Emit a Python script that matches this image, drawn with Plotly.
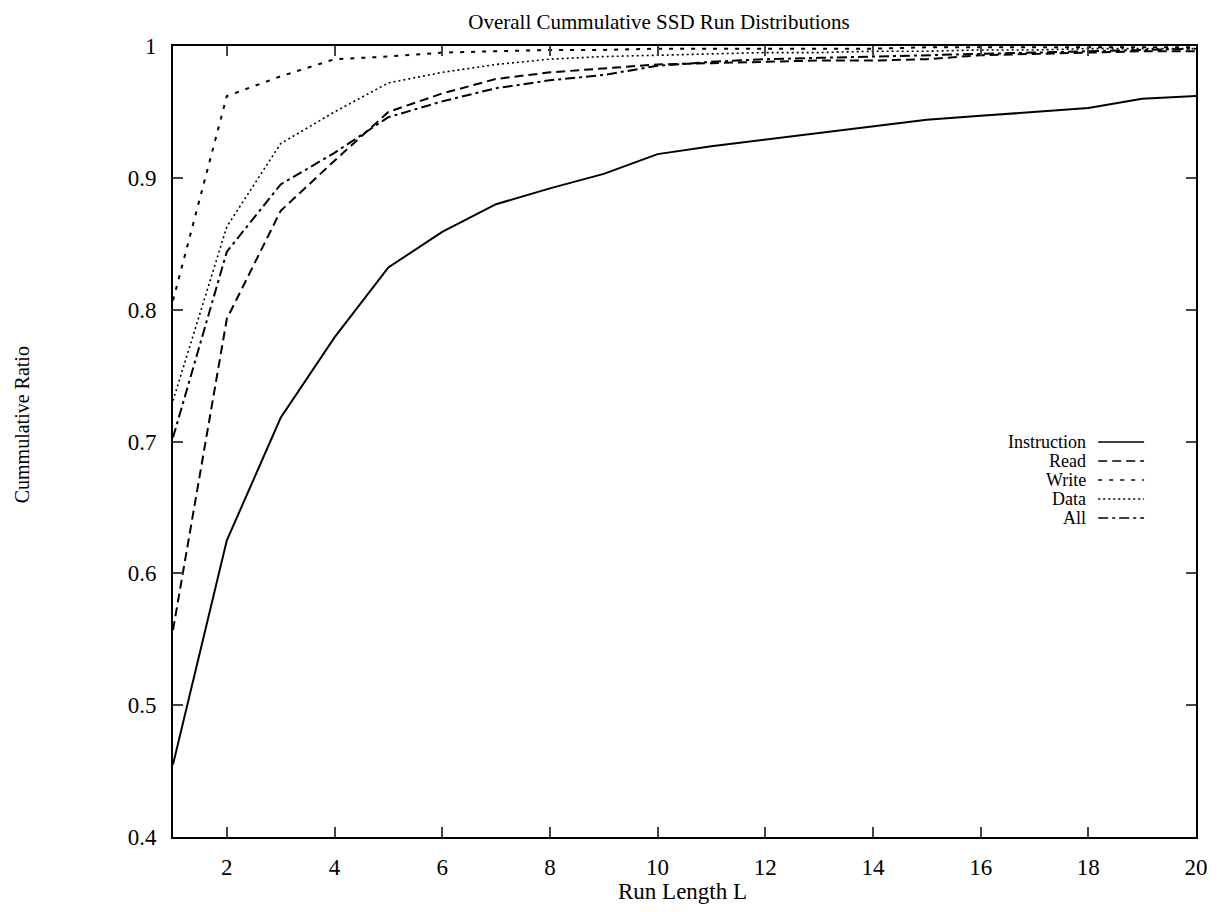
import plotly.graph_objects as go

run_length = list(range(1, 21))

instruction = [0.455, 0.625, 0.718, 0.779, 0.832, 0.859, 0.880, 0.892, 0.903, 0.918,
               0.924, 0.929, 0.934, 0.939, 0.944, 0.947, 0.950, 0.953, 0.960, 0.962]
read = [0.557, 0.793, 0.875, 0.913, 0.950, 0.964, 0.975, 0.980, 0.983, 0.986,
        0.987, 0.988, 0.989, 0.989, 0.990, 0.993, 0.994, 0.995, 0.996, 0.996]
write = [0.807, 0.962, 0.977, 0.990, 0.992, 0.995, 0.996, 0.997, 0.997, 0.998,
         0.998, 0.998, 0.998, 0.998, 0.999, 0.999, 0.999, 0.999, 0.999, 0.999]
data = [0.731, 0.863, 0.926, 0.950, 0.972, 0.980, 0.986, 0.990, 0.992, 0.993,
        0.994, 0.995, 0.995, 0.996, 0.996, 0.997, 0.997, 0.998, 0.998, 0.998]
all_ = [0.703, 0.844, 0.895, 0.919, 0.946, 0.958, 0.968, 0.974, 0.978, 0.985,
        0.988, 0.990, 0.991, 0.992, 0.993, 0.994, 0.995, 0.996, 0.997, 0.998]

series_names = ["Instruction", "Read", "Write", "Data", "All"]
series_values = [instruction, read, write, data, all_]
dashes = ["solid", "9px,5px", "4px,7px", "2px,3px", "10px,4px,3px,4px"]
widths = [2, 2, 2, 1.6, 2]

x_ticks = [2, 4, 6, 8, 10, 12, 14, 16, 18, 20]
y_ticks = [0.4, 0.5, 0.6, 0.7, 0.8, 0.9, 1.0]
y_tick_labels = ["0.4", "0.5", "0.6", "0.7", "0.8", "0.9", "1"]

FONT = "Liberation Serif"
W, H = 1220, 912
L, R, T, B = 173, 22, 46, 75
pw, ph = W - L - R, H - T - B

fig = go.Figure()
for name, vals, d, w in zip(series_names, series_values, dashes, widths):
    fig.add_trace(go.Scatter(x=run_length, y=vals, mode="lines", name=name,
                             line=dict(color="black", width=w, dash=d),
                             showlegend=False))


def px_to_paper_x(px):
    return (px - L) / pw


def px_to_paper_y(py):
    return 1 - (py - T) / ph


# gnuplot-style legend: right-aligned text followed by a line sample
row0, dy = 442, 19
shapes = []
annotations = []
for i, (name, d) in enumerate(zip(series_names, dashes)):
    yy = px_to_paper_y(row0 + i * dy)
    annotations.append(dict(x=px_to_paper_x(1090), y=yy, xref="paper", yref="paper",
                            text=name, showarrow=False, xanchor="right", yanchor="middle",
                            font=dict(family=FONT, size=18, color="black")))
    shapes.append(dict(type="line", xref="paper", yref="paper",
                       x0=px_to_paper_x(1100), x1=px_to_paper_x(1146), y0=yy, y1=yy,
                       line=dict(color="black", width=1.5, dash=d)))

annotations.append(dict(x=px_to_paper_x(22), y=px_to_paper_y(425), xref="paper", yref="paper",
                        text="Cummulative Ratio", showarrow=False, textangle=-90,
                        xanchor="center", yanchor="middle",
                        font=dict(family=FONT, size=20, color="black")))
annotations.append(dict(x=px_to_paper_x(683), y=px_to_paper_y(891), xref="paper", yref="paper",
                        text="Run Length L", showarrow=False,
                        xanchor="center", yanchor="middle",
                        font=dict(family=FONT, size=23, color="black")))

fig.update_layout(
    width=W, height=H,
    margin=dict(l=L, r=R, t=T, b=B),
    paper_bgcolor="white", plot_bgcolor="white",
    font=dict(family=FONT, size=20, color="black"),
    title=dict(text="Overall Cummulative SSD Run Distributions", x=659 / W,
               xanchor="center", y=1 - 22 / H, yanchor="middle", yref="container",
               font=dict(family=FONT, size=21, color="black")),
    xaxis=dict(range=[1, 20], tickvals=x_ticks, ticks="inside", ticklen=10, tickwidth=2,
               showline=True, linewidth=2, linecolor="black", mirror="ticks",
               showgrid=False, zeroline=False, ticklabelstandoff=8,
               tickfont=dict(family=FONT, size=23)),
    yaxis=dict(range=[0.4, 1.0], tickvals=y_ticks, ticktext=y_tick_labels,
               ticks="inside", ticklen=10, tickwidth=2,
               showline=True, linewidth=2, linecolor="black", mirror="ticks",
               showgrid=False, zeroline=False, ticklabelstandoff=10,
               tickfont=dict(family=FONT, size=23)),
    shapes=shapes,
    annotations=annotations,
)

fig.write_html("out.html")
